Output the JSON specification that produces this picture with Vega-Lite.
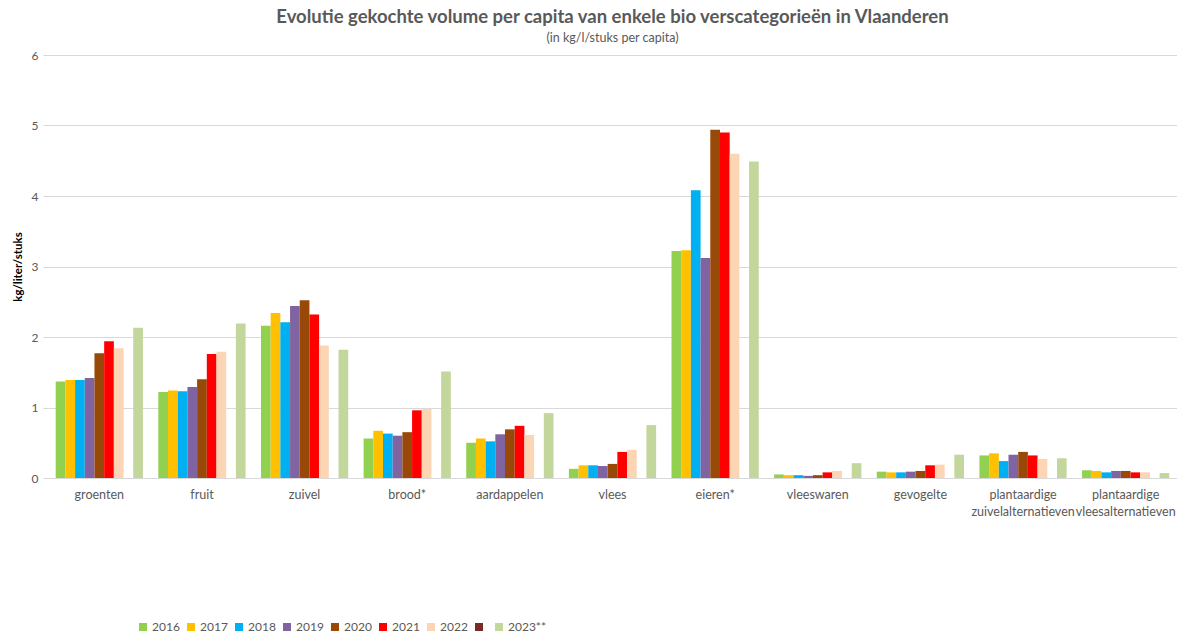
{
  "$schema": "https://vega.github.io/schema/vega-lite/v6.json",
  "width": 1129,
  "height": 423,
  "autosize": {"type": "none"},
  "padding": {"left": 48, "top": 55, "right": 0, "bottom": 155},
  "background": "white",
  "title": {
    "text": "Evolutie gekochte volume per capita van enkele bio verscategorieën in Vlaanderen",
    "subtitle": "(in kg/l/stuks per capita)",
    "anchor": "middle",
    "frame": "group",
    "font": "Lato",
    "fontSize": 18.5,
    "fontWeight": "bold",
    "color": "#595959",
    "subtitleFont": "Lato",
    "subtitleFontSize": 12.5,
    "subtitleColor": "#595959",
    "subtitlePadding": 5,
    "offset": 5
  },
  "data": {
    "values": [
      {"cat": "groenten", "year": "2016", "value": 1.37},
      {"cat": "groenten", "year": "2017", "value": 1.39},
      {"cat": "groenten", "year": "2018", "value": 1.39},
      {"cat": "groenten", "year": "2019", "value": 1.42},
      {"cat": "groenten", "year": "2020", "value": 1.77},
      {"cat": "groenten", "year": "2021", "value": 1.94},
      {"cat": "groenten", "year": "2022", "value": 1.84},
      {"cat": "groenten", "year": "2023**", "value": 2.13},
      {"cat": "fruit", "year": "2016", "value": 1.22},
      {"cat": "fruit", "year": "2017", "value": 1.24},
      {"cat": "fruit", "year": "2018", "value": 1.23},
      {"cat": "fruit", "year": "2019", "value": 1.29},
      {"cat": "fruit", "year": "2020", "value": 1.40},
      {"cat": "fruit", "year": "2021", "value": 1.76},
      {"cat": "fruit", "year": "2022", "value": 1.79},
      {"cat": "fruit", "year": "2023**", "value": 2.19},
      {"cat": "zuivel", "year": "2016", "value": 2.16},
      {"cat": "zuivel", "year": "2017", "value": 2.34},
      {"cat": "zuivel", "year": "2018", "value": 2.21},
      {"cat": "zuivel", "year": "2019", "value": 2.44},
      {"cat": "zuivel", "year": "2020", "value": 2.52},
      {"cat": "zuivel", "year": "2021", "value": 2.32},
      {"cat": "zuivel", "year": "2022", "value": 1.88},
      {"cat": "zuivel", "year": "2023**", "value": 1.82},
      {"cat": "brood*", "year": "2016", "value": 0.56},
      {"cat": "brood*", "year": "2017", "value": 0.67},
      {"cat": "brood*", "year": "2018", "value": 0.63},
      {"cat": "brood*", "year": "2019", "value": 0.60},
      {"cat": "brood*", "year": "2020", "value": 0.65},
      {"cat": "brood*", "year": "2021", "value": 0.96},
      {"cat": "brood*", "year": "2022", "value": 0.98},
      {"cat": "brood*", "year": "2023**", "value": 1.51},
      {"cat": "aardappelen", "year": "2016", "value": 0.50},
      {"cat": "aardappelen", "year": "2017", "value": 0.56},
      {"cat": "aardappelen", "year": "2018", "value": 0.52},
      {"cat": "aardappelen", "year": "2019", "value": 0.62},
      {"cat": "aardappelen", "year": "2020", "value": 0.69},
      {"cat": "aardappelen", "year": "2021", "value": 0.74},
      {"cat": "aardappelen", "year": "2022", "value": 0.61},
      {"cat": "aardappelen", "year": "2023**", "value": 0.92},
      {"cat": "vlees", "year": "2016", "value": 0.13},
      {"cat": "vlees", "year": "2017", "value": 0.18},
      {"cat": "vlees", "year": "2018", "value": 0.18},
      {"cat": "vlees", "year": "2019", "value": 0.17},
      {"cat": "vlees", "year": "2020", "value": 0.20},
      {"cat": "vlees", "year": "2021", "value": 0.37},
      {"cat": "vlees", "year": "2022", "value": 0.40},
      {"cat": "vlees", "year": "2023**", "value": 0.75},
      {"cat": "eieren*", "year": "2016", "value": 3.22},
      {"cat": "eieren*", "year": "2017", "value": 3.23},
      {"cat": "eieren*", "year": "2018", "value": 4.08},
      {"cat": "eieren*", "year": "2019", "value": 3.12},
      {"cat": "eieren*", "year": "2020", "value": 4.94},
      {"cat": "eieren*", "year": "2021", "value": 4.90},
      {"cat": "eieren*", "year": "2022", "value": 4.60},
      {"cat": "eieren*", "year": "2023**", "value": 4.49},
      {"cat": "vleeswaren", "year": "2016", "value": 0.05},
      {"cat": "vleeswaren", "year": "2017", "value": 0.04},
      {"cat": "vleeswaren", "year": "2018", "value": 0.04},
      {"cat": "vleeswaren", "year": "2019", "value": 0.03},
      {"cat": "vleeswaren", "year": "2020", "value": 0.04},
      {"cat": "vleeswaren", "year": "2021", "value": 0.08},
      {"cat": "vleeswaren", "year": "2022", "value": 0.10},
      {"cat": "vleeswaren", "year": "2023**", "value": 0.21},
      {"cat": "gevogelte", "year": "2016", "value": 0.09},
      {"cat": "gevogelte", "year": "2017", "value": 0.08},
      {"cat": "gevogelte", "year": "2018", "value": 0.08},
      {"cat": "gevogelte", "year": "2019", "value": 0.09},
      {"cat": "gevogelte", "year": "2020", "value": 0.10},
      {"cat": "gevogelte", "year": "2021", "value": 0.18},
      {"cat": "gevogelte", "year": "2022", "value": 0.19},
      {"cat": "gevogelte", "year": "2023**", "value": 0.33},
      {"cat": "plantaardige zuivelalternatieven", "year": "2016", "value": 0.32},
      {"cat": "plantaardige zuivelalternatieven", "year": "2017", "value": 0.35},
      {"cat": "plantaardige zuivelalternatieven", "year": "2018", "value": 0.24},
      {"cat": "plantaardige zuivelalternatieven", "year": "2019", "value": 0.33},
      {"cat": "plantaardige zuivelalternatieven", "year": "2020", "value": 0.37},
      {"cat": "plantaardige zuivelalternatieven", "year": "2021", "value": 0.32},
      {"cat": "plantaardige zuivelalternatieven", "year": "2022", "value": 0.27},
      {"cat": "plantaardige zuivelalternatieven", "year": "2023**", "value": 0.28},
      {"cat": "plantaardige vleesalternatieven", "year": "2016", "value": 0.11},
      {"cat": "plantaardige vleesalternatieven", "year": "2017", "value": 0.10},
      {"cat": "plantaardige vleesalternatieven", "year": "2018", "value": 0.08},
      {"cat": "plantaardige vleesalternatieven", "year": "2019", "value": 0.10},
      {"cat": "plantaardige vleesalternatieven", "year": "2020", "value": 0.10},
      {"cat": "plantaardige vleesalternatieven", "year": "2021", "value": 0.08},
      {"cat": "plantaardige vleesalternatieven", "year": "2022", "value": 0.08},
      {"cat": "plantaardige vleesalternatieven", "year": "2023**", "value": 0.07}
    ]
  },
  "mark": {"type": "bar"},
  "encoding": {
    "x": {
      "field": "cat",
      "type": "nominal",
      "sort": null,
      "scale": {"paddingInner": 0.15, "paddingOuter": 0.075},
      "axis": {
        "title": null,
        "labelAngle": 0,
        "labelFont": "Lato",
        "labelFontSize": 12.5,
        "labelColor": "#595959",
        "labelPadding": 10,
        "labelLineHeight": 17,
        "labelLimit": 200,
        "ticks": false,
        "domainColor": "#d9d9d9",
        "domainWidth": 1,
        "labelExpr": "indexof(datum.label, 'plantaardige') == 0 ? split(datum.label, ' ') : datum.label"
      }
    },
    "xOffset": {
      "field": "year",
      "type": "nominal",
      "scale": {
        "domain": ["2016", "2017", "2018", "2019", "2020", "2021", "2022", " ", "2023**"],
        "paddingInner": 0,
        "paddingOuter": 0
      }
    },
    "y": {
      "field": "value",
      "type": "quantitative",
      "scale": {"domain": [0, 6], "nice": false},
      "axis": {
        "title": "kg/liter/stuks",
        "titleFont": "Lato",
        "titleFontSize": 11.5,
        "titleFontWeight": "bold",
        "titleColor": "#000000",
        "titlePadding": 8,
        "values": [0, 1, 2, 3, 4, 5, 6],
        "labelFont": "Lato",
        "labelFontSize": 12,
        "labelColor": "#595959",
        "labelPadding": 5,
        "domain": false,
        "ticks": true,
        "tickSize": 5,
        "tickColor": "#d9d9d9",
        "grid": true,
        "gridColor": "#d9d9d9",
        "gridWidth": 1
      }
    },
    "color": {
      "field": "year",
      "type": "nominal",
      "scale": {
        "domain": ["2016", "2017", "2018", "2019", "2020", "2021", "2022", " ", "2023**"],
        "range": ["#92D050", "#FFC000", "#00B0F0", "#8064A2", "#984807", "#FF0000", "#FCD5B5", "#772C2A", "#C3D69B"]
      },
      "legend": {
        "title": null,
        "orient": "none",
        "direction": "horizontal",
        "legendX": 89,
        "legendY": 566,
        "symbolType": "square",
        "symbolSize": 64,
        "symbolStrokeWidth": 0,
        "labelFont": "Lato",
        "labelFontSize": 12,
        "labelColor": "#595959",
        "labelOffset": 3,
        "columnPadding": 5
      }
    }
  },
  "config": {
    "view": {"stroke": null}
  }
}
